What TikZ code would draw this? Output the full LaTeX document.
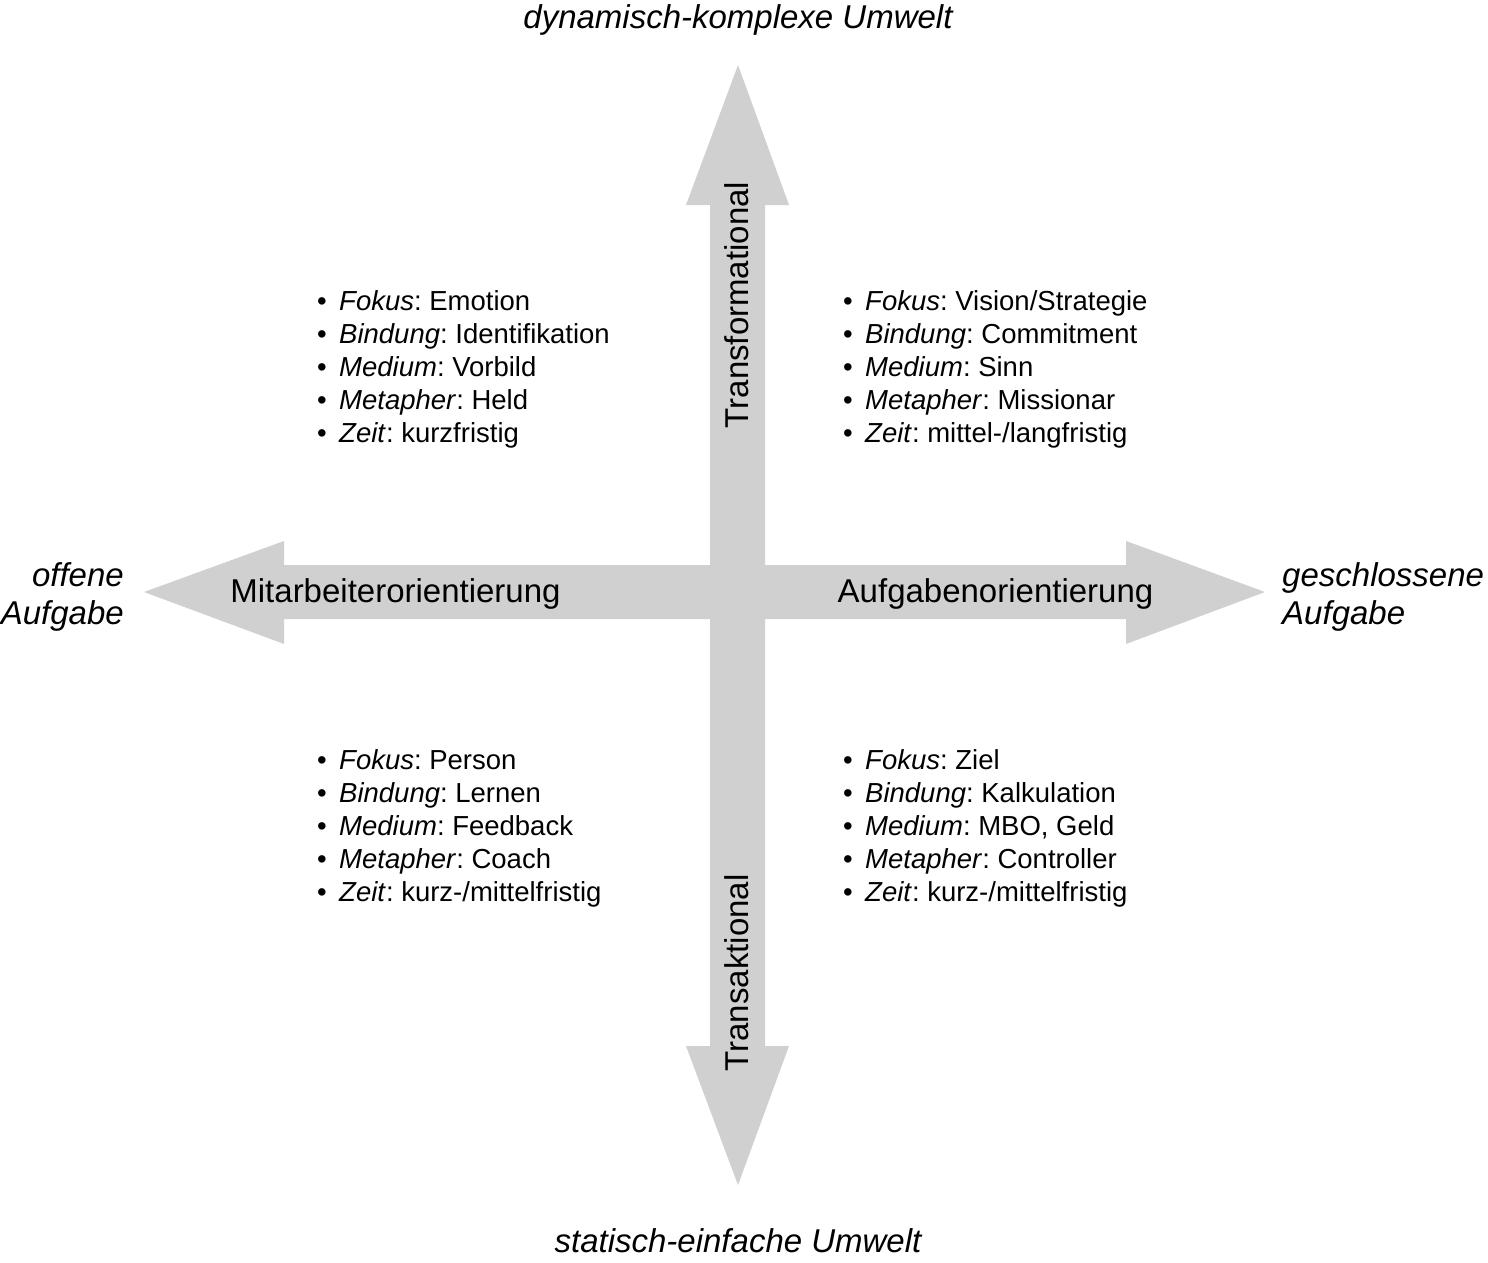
\documentclass[tikz,border=0pt]{standalone}
\usepackage{fontspec}
\setmainfont{Liberation Sans}
\frenchspacing
\definecolor{arrowgray}{RGB}{208,208,208}
\newcommand\qitem[2]{\makebox[22pt][l]{\textbullet}\textit{#1}: #2\\}
\tikzset{
  bigarrow/.style={fill=arrowgray, draw=none},
  bigtext/.style={font=\fontsize{33}{38}\selectfont, inner sep=0pt},
  sidetext/.style={font=\fontsize{33}{38}\selectfont\itshape, inner sep=0pt},
  listtext/.style={font=\fontsize{27.5}{33}\selectfont\frenchspacing, inner sep=0pt, anchor=base west}
}
\begin{document}
\begin{tikzpicture}[x=1pt,y=-1pt]
\useasboundingbox (0,0) rectangle (1488,1263);
% vertical double arrow
\fill[bigarrow] (738,65) -- (789,205) -- (765,205) -- (765,1046) -- (789,1046) -- (738,1185)
  -- (686,1046) -- (710,1046) -- (710,205) -- (686,205) -- cycle;
% horizontal double arrow
\fill[bigarrow] (144,592) -- (284,541) -- (284,565) -- (1126,565) -- (1126,541) -- (1265,592)
  -- (1126,644) -- (1126,619) -- (284,619) -- (284,644) -- cycle;

\node[sidetext, anchor=base] (top) at (738,29) {dynamisch-komplexe Umwelt};
\node[sidetext, anchor=base] (bottom) at (738,1252) {statisch-einfache Umwelt};
\node[sidetext, anchor=north east, align=right] (left) at (124,560)
  {\begin{tabular}[t]{@{}r@{}}offene\\Aufgabe\end{tabular}};
\node[sidetext, anchor=north west, align=left] (right) at (1282,560)
  {\begin{tabular}[t]{@{}l@{}}geschlossene\\Aufgabe\end{tabular}};

\node[bigtext, anchor=base] (mitarb) at (395.5,602) {Mitarbeiterorientierung};
\node[bigtext, anchor=base] (aufg) at (995.5,602) {Aufgabenorientierung};
\node[bigtext, anchor=base, rotate=90] (transf) at (748,305) {Transformational};
\node[bigtext, anchor=base, rotate=90] (transa) at (748,973) {Transaktional};

\node[listtext] (tl) at (317,310) {\begin{tabular}[t]{@{}l@{}}
\qitem{Fokus}{Emotion}
\qitem{Bindung}{Identifikation}
\qitem{Medium}{Vorbild}
\qitem{Metapher}{Held}
\qitem{Zeit}{kurzfristig}
\end{tabular}};
\node[listtext] (tr) at (843,310) {\begin{tabular}[t]{@{}l@{}}
\qitem{Fokus}{Vision/Strategie}
\qitem{Bindung}{Commitment}
\qitem{Medium}{Sinn}
\qitem{Metapher}{Missionar}
\qitem{Zeit}{mittel-/langfristig}
\end{tabular}};
\node[listtext] (bl) at (317,769) {\begin{tabular}[t]{@{}l@{}}
\qitem{Fokus}{Person}
\qitem{Bindung}{Lernen}
\qitem{Medium}{Feedback}
\qitem{Metapher}{Coach}
\qitem{Zeit}{kurz-/mittelfristig}
\end{tabular}};
\node[listtext] (br) at (843,769) {\begin{tabular}[t]{@{}l@{}}
\qitem{Fokus}{Ziel}
\qitem{Bindung}{Kalkulation}
\qitem{Medium}{MBO, Geld}
\qitem{Metapher}{Controller}
\qitem{Zeit}{kurz-/mittelfristig}
\end{tabular}};
\end{tikzpicture}
\end{document}
